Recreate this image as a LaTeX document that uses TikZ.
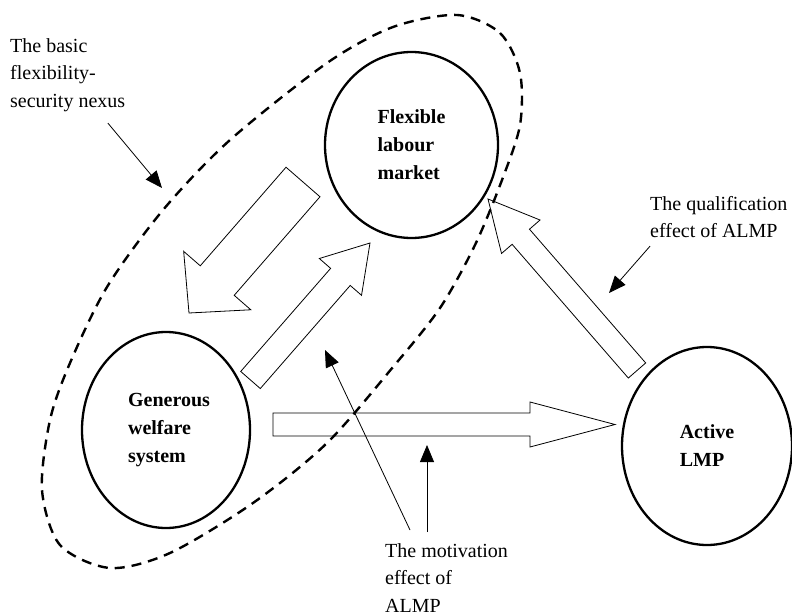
\documentclass[tikz,border=0pt]{standalone}
\usepackage{fontspec}
\setmainfont{Liberation Serif}
\usetikzlibrary{arrows.meta,calc,shapes.geometric}

\begin{document}
\begin{tikzpicture}[x=1pt, y=-1pt, every node/.style={font=\fontsize{20}{27.5}\selectfont}, pole/.style={draw,ellipse,line width=2.3pt,align=left,font=\fontsize{20}{28}\selectfont\bfseries}, lbl/.style={align=left,inner sep=0pt}, note/.style={line width=0.8pt,-{Triangle[length=17pt,width=14pt]}}, ring/.style={line width=2.4pt,dash pattern=on 10pt off 7pt}, fat/.style n args={3}{draw,line width=0.8pt,to path={($(\tikztostart)!#1!90:(\tikztotarget)$) -- ($($(\tikztotarget)!#3!(\tikztostart)$)!#1!90:(\tikztotarget)$) -- ($($(\tikztotarget)!#3!(\tikztostart)$)!#2!90:(\tikztotarget)$) -- (\tikztotarget) -- ($($(\tikztotarget)!#3!(\tikztostart)$)!#2!-90:(\tikztotarget)$) -- ($($(\tikztotarget)!#3!(\tikztostart)$)!#1!-90:(\tikztotarget)$) -- ($(\tikztostart)!#1!-90:(\tikztotarget)$) -- cycle}}]
\useasboundingbox (0,0) rectangle (792,615);
\node[pole, minimum width=173pt, minimum height=186pt] (flm) at (411.5,145) {Flexible\\labour\\market};
\node[pole, minimum width=168pt, minimum height=196pt] (gws) at (166,430) {\hspace*{6pt}Generous\\\hspace*{6pt}welfare\\\hspace*{6pt}system};
\node[pole, minimum width=170pt, minimum height=198pt] (alm) at (707,446) {Active\\LMP};
% the dashed nexus round the first two poles
\draw[ring] plot[smooth cycle] coordinates {(457,15) (500,33) (520,73) (520,125) (502,180) (475,245) (440,308) (393,367) (327,443) (253,503) (170,553) (110,568) (60,545) (42,490) (50,420) (70,363) (107,287) (163,210) (230,140) (327,63) (393,27)};
\node[lbl, anchor=north west] (nexus-lbl) at (10,38) {The basic\\flexibility-\\security nexus};
\node[lbl, anchor=north west] (qual-lbl) at (650,196) {The qualification\\effect of ALMP};
\node[lbl, anchor=north west] (mot-lbl) at (385,543) {The motivation\\effect of\\ALMP};
% ends of the block arrows
\coordinate (fl-tail) at (303,182); \coordinate (gw-head) at (189,313);
\coordinate (gw-tail) at (250.5,380); \coordinate (fl-head) at (370,243);
\coordinate (gw-right) at (273,424.5); \coordinate (al-left) at (615,424.5);
\coordinate (al-tail) at (637,370.5); \coordinate (fl-tip) at (488,199);
\draw[fat={22.5pt}{44.5pt}{43pt}] (fl-tail) to (gw-head);
\draw[fat={13pt}{28pt}{45pt}] (gw-tail) to (fl-head);
\draw[fat={11.5pt}{22.5pt}{85pt}] (gw-right) to (al-left);
\draw[fat={11.5pt}{25.5pt}{50pt}] (al-tail) to (fl-tip);
% pointers from the labels
\coordinate (nexus-tip) at (162,188);
\coordinate (qual-tip) at (609,293);
\coordinate (mot-tip-a) at (325,350);
\coordinate (mot-tip-b) at (427,445);
\draw[note, shorten <=15pt] (nexus-lbl) -- (nexus-tip);
\draw[note] ([yshift=-8pt]qual-lbl.south west) -- (qual-tip);
\draw[note] ([shift={(25pt,13pt)}]mot-lbl.north west) -- (mot-tip-a);
\draw[note] ([shift={(42pt,11pt)}]mot-lbl.north west) -- (mot-tip-b);
\end{tikzpicture}
\end{document}
